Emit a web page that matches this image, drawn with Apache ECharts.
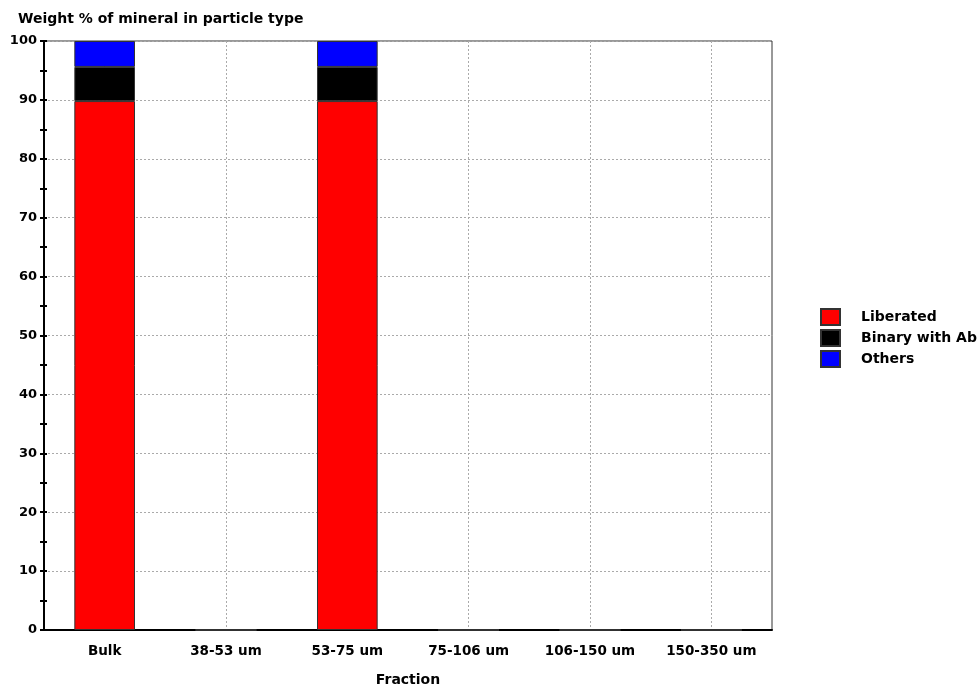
<!DOCTYPE html>
<html>
<head>
<meta charset="utf-8">
<script src="https://cdn.jsdelivr.net/npm/echarts@6/dist/echarts.min.js"></script>
<style>
  html, body { margin: 0; padding: 0; background: #fff; overflow: hidden; }
  #chart { width: 979px; height: 691px; }
</style>
</head>
<body>
<div id="chart"></div>
<script>
// Size fractions along the x axis
const fractions = ['Bulk', '38-53 um', '53-75 um', '75-106 um', '106-150 um', '150-350 um'];
// Weight % of the mineral in each particle type, per fraction
const liberated = [89.8, 0, 89.8, 0, 0, 0];
const binaryWithAb = [5.8, 0, 5.8, 0, 0, 0];
const others = [4.4, 0, 4.4, 0, 0, 0];
// Value axis ticks
const yTicks = [0, 10, 20, 30, 40, 50, 60, 70, 80, 90, 100];

const font = '"DejaVu Sans", Verdana, sans-serif';
const chart = echarts.init(document.getElementById('chart'), null, { renderer: 'canvas' });

function barSeries(name, data, color) {
  return {
    name: name,
    type: 'bar',
    stack: 'total',
    data: data,
    barWidth: '50%',
    itemStyle: { color: color, borderColor: '#333', borderWidth: 1 },
    emphasis: { disabled: true }
  };
}

const yMin = yTicks[0], yMax = yTicks[yTicks.length - 1];

chart.setOption({
  animation: false,
  backgroundColor: '#fff',
  title: {
    text: 'Weight % of mineral in particle type',
    left: 13, top: 7,
    textStyle: { fontFamily: font, fontSize: 14, fontWeight: 'bold', color: '#000' }
  },
  legend: {
    left: 815, top: 303, orient: 'vertical',
    itemWidth: 19, itemHeight: 16, itemGap: 3,
    icon: 'rect',
    textStyle: { fontFamily: font, fontSize: 14, fontWeight: 'bold', color: '#000', padding: [0, 0, 0, 16] },
    data: ['Liberated', 'Binary with Ab', 'Others']
  },
  grid: {
    left: 44, right: 207, top: 41, bottom: 61,
    outerBoundsMode: 'none',
    containLabel: false,
    show: true, borderColor: '#333', borderWidth: 1, backgroundColor: 'transparent'
  },
  xAxis: [{
    type: 'category',
    data: fractions,
    name: 'Fraction',
    nameLocation: 'middle',
    nameGap: 43,
    nameTextStyle: { fontFamily: font, fontSize: 14, fontWeight: 'bold', color: '#000' },
    axisLine: { lineStyle: { color: '#000', width: 2 } },
    axisTick: { alignWithLabel: true, length: 4, lineStyle: { color: '#000', width: 2 } },
    axisLabel: { interval: 0, fontFamily: font, fontSize: 13.5, fontWeight: 'bold', color: '#000', margin: 14 },
    splitLine: { show: true, alignWithLabel: true, lineStyle: { color: '#aaa', type: [2, 2], width: 1 } }
  }, {
    // inner half of the ticks that cross the category axis
    type: 'category', position: 'bottom',
    data: fractions,
    axisLine: { show: false },
    axisTick: { alignWithLabel: true, inside: true, length: 3, lineStyle: { color: '#000', width: 2 } },
    axisLabel: { show: false },
    splitLine: { show: false }
  }],
  yAxis: [{
    type: 'value',
    min: yMin, max: yMax, interval: 10,
    axisLine: { show: true, lineStyle: { color: '#000', width: 2 } },
    axisTick: { show: true, length: 4, lineStyle: { color: '#000', width: 2 } },
    minorTick: { show: true, splitNumber: 2, length: 4, lineStyle: { color: '#000', width: 2 } },
    axisLabel: { fontFamily: font, fontSize: 13, fontWeight: 'bold', color: '#000', margin: 7 },
    splitLine: { show: true, lineStyle: { color: '#aaa', type: [2, 2], width: 1 } }
  }, {
    // inner half of the ticks that cross the value axis
    type: 'value', position: 'left',
    min: yMin, max: yMax, interval: 10,
    axisLine: { show: false },
    axisTick: { show: true, inside: true, length: 3, lineStyle: { color: '#000', width: 2 } },
    minorTick: { show: true, splitNumber: 2, length: 3, lineStyle: { color: '#000', width: 2 } },
    axisLabel: { show: false },
    splitLine: { show: false }
  }],
  series: [
    barSeries('Liberated', liberated, '#ff0000'),
    barSeries('Binary with Ab', binaryWithAb, '#000000'),
    barSeries('Others', others, '#0000ff')
  ]
});
</script>
</body>
</html>
